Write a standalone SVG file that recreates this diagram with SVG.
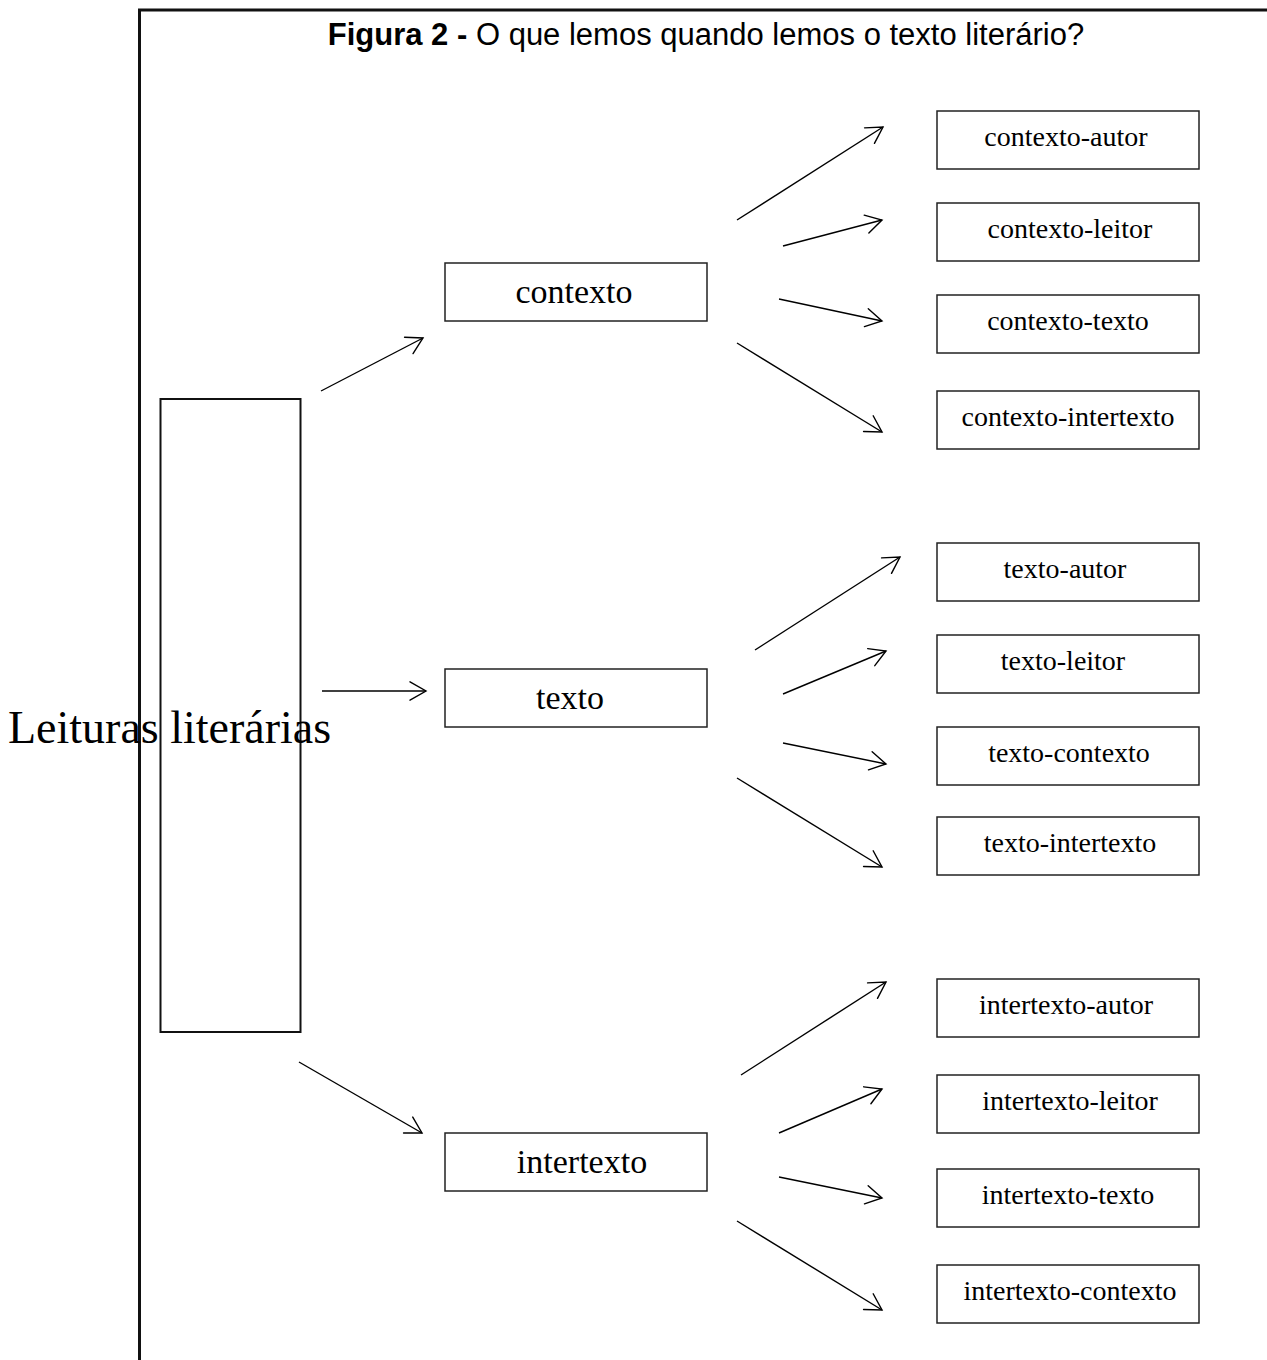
<svg xmlns="http://www.w3.org/2000/svg" width="1267" height="1360" viewBox="0 0 1267 1360">
<style>
.box{fill:#fff;stroke:#222;stroke-width:1.5}
.big{fill:#fff;stroke:#111;stroke-width:2}
.t{font-family:"Liberation Serif","Times New Roman",serif;fill:#000;text-anchor:middle}
.s{font-size:28px}
.m{font-size:34px}
.c{stroke:#000;stroke-width:1.4;fill:none;marker-end:url(#ah)}
.title{font-family:"Liberation Sans",Arial,sans-serif;font-size:31px;fill:#000;text-anchor:middle}
</style>
<defs>
<marker id="ah" markerUnits="userSpaceOnUse" viewBox="-18 -11 20 22" markerWidth="20" markerHeight="22" refX="0" refY="0" orient="auto">
<path d="M-16,-9.2 L0,0 L-16,9.2" fill="none" stroke="#000" stroke-width="1.4" stroke-linecap="round" stroke-linejoin="miter"/>
</marker>
</defs>
<rect width="1267" height="1360" fill="#fff"/>
<g id="frame">
<line x1="139.5" y1="10" x2="139.5" y2="1360" stroke="#111" stroke-width="3"/>
<line x1="138" y1="10" x2="1267" y2="10" stroke="#111" stroke-width="3"/>
</g>
<g id="title"><text class="title" x="706" y="45"><tspan font-weight="bold">Figura 2 -</tspan> O que lemos quando lemos o texto literário?</text></g>
<g id="connectors">
<line class="c" x1="321" y1="391" x2="423" y2="338"/>
<line class="c" x1="322" y1="691" x2="426" y2="691"/>
<line class="c" x1="299" y1="1062" x2="422" y2="1133"/>
<line class="c" x1="737" y1="220" x2="883" y2="127"/>
<line class="c" x1="783" y1="246" x2="882" y2="220"/>
<line class="c" x1="779" y1="299" x2="882" y2="321"/>
<line class="c" x1="737" y1="343" x2="882" y2="432"/>
<line class="c" x1="755" y1="650" x2="900" y2="557"/>
<line class="c" x1="783" y1="694" x2="886" y2="651"/>
<line class="c" x1="783" y1="743" x2="886" y2="764"/>
<line class="c" x1="737" y1="778" x2="882" y2="867"/>
<line class="c" x1="741" y1="1075" x2="886" y2="982"/>
<line class="c" x1="779" y1="1133" x2="882" y2="1089"/>
<line class="c" x1="779" y1="1177" x2="882" y2="1198"/>
<line class="c" x1="737" y1="1221" x2="882" y2="1310"/>
</g>
<g id="leituras">
<rect class="big" x="160.5" y="399" width="140" height="633"/>
<text x="8" y="743" font-family="'Liberation Serif','Times New Roman',serif" font-size="46" fill="#000">Leituras literárias</text>
</g>
<g id="contexto"><rect class="box" x="445" y="263" width="262" height="58"/><text class="t m" x="574" y="303">contexto</text></g>
<g id="texto"><rect class="box" x="445" y="669" width="262" height="58"/><text class="t m" x="570" y="709">texto</text></g>
<g id="intertexto"><rect class="box" x="445" y="1133" width="262" height="58"/><text class="t m" x="582" y="1173">intertexto</text></g>
<g id="contexto-autor"><rect class="box" x="937" y="111" width="262" height="58"/><text class="t s" x="1066" y="146">contexto-autor</text></g>
<g id="contexto-leitor"><rect class="box" x="937" y="203" width="262" height="58"/><text class="t s" x="1070" y="238">contexto-leitor</text></g>
<g id="contexto-texto"><rect class="box" x="937" y="295" width="262" height="58"/><text class="t s" x="1068" y="330">contexto-texto</text></g>
<g id="contexto-intertexto"><rect class="box" x="937" y="391" width="262" height="58"/><text class="t s" x="1068" y="426">contexto-intertexto</text></g>
<g id="texto-autor"><rect class="box" x="937" y="543" width="262" height="58"/><text class="t s" x="1065" y="578">texto-autor</text></g>
<g id="texto-leitor"><rect class="box" x="937" y="635" width="262" height="58"/><text class="t s" x="1063" y="670">texto-leitor</text></g>
<g id="texto-contexto"><rect class="box" x="937" y="727" width="262" height="58"/><text class="t s" x="1069" y="762">texto-contexto</text></g>
<g id="texto-intertexto"><rect class="box" x="937" y="817" width="262" height="58"/><text class="t s" x="1070" y="852">texto-intertexto</text></g>
<g id="intertexto-autor"><rect class="box" x="937" y="979" width="262" height="58"/><text class="t s" x="1066" y="1014">intertexto-autor</text></g>
<g id="intertexto-leitor"><rect class="box" x="937" y="1075" width="262" height="58"/><text class="t s" x="1070" y="1110">intertexto-leitor</text></g>
<g id="intertexto-texto"><rect class="box" x="937" y="1169" width="262" height="58"/><text class="t s" x="1068" y="1204">intertexto-texto</text></g>
<g id="intertexto-contexto"><rect class="box" x="937" y="1265" width="262" height="58"/><text class="t s" x="1070" y="1300">intertexto-contexto</text></g>
</svg>
